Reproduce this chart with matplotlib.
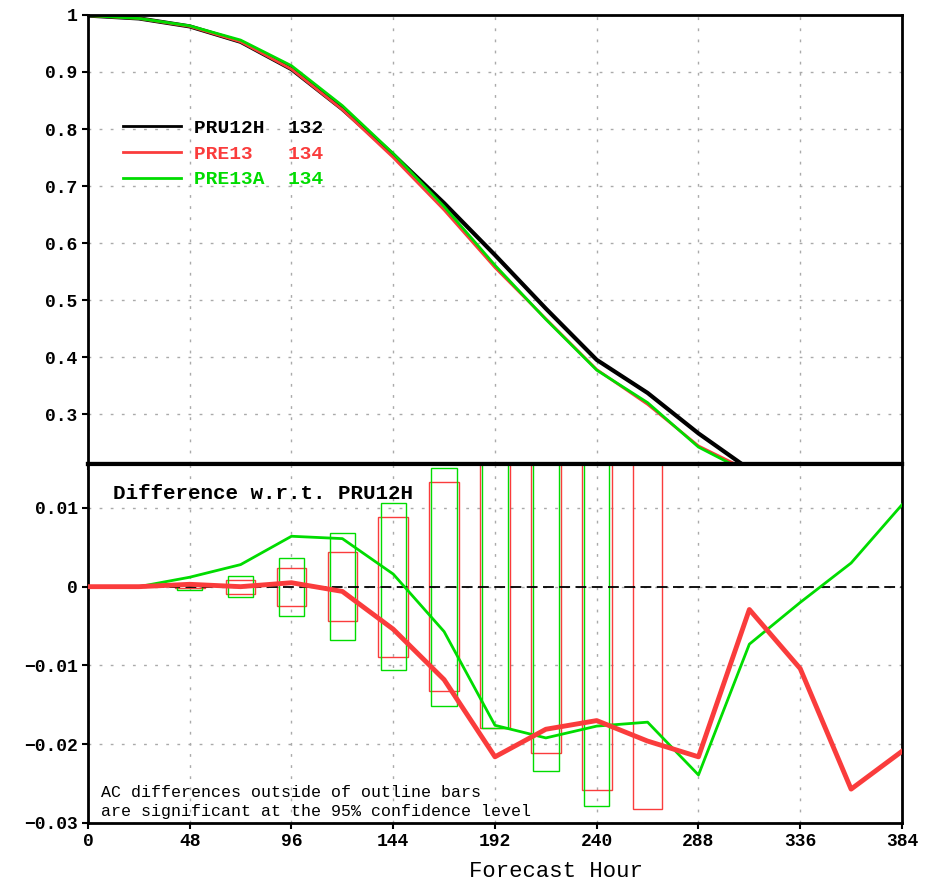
import matplotlib
matplotlib.use('Agg')
import matplotlib.pyplot as plt
from matplotlib.ticker import FixedLocator

plt.rcParams['font.family'] = ['Liberation Mono', 'DejaVu Sans Mono']

# forecast hours
hours = [0, 24, 48, 72, 96, 120, 144, 168, 192, 216, 240, 264, 288, 312]
diff_hours = [0, 24, 48, 72, 96, 120, 144, 168, 192, 216, 240, 264, 288, 312, 336, 360, 384]

# anomaly correlation (top panel)
ac_pru12h = [0.999, 0.994, 0.980, 0.953, 0.905, 0.835, 0.755, 0.670, 0.579, 0.485, 0.395, 0.337, 0.266, 0.203]
ac_pre13 = [0.999, 0.994, 0.980, 0.953, 0.905, 0.834, 0.750, 0.658, 0.557, 0.467, 0.378, 0.317, 0.244, 0.200]
ac_pre13a = [0.999, 0.994, 0.981, 0.956, 0.911, 0.841, 0.757, 0.664, 0.561, 0.466, 0.377, 0.320, 0.242, 0.196]

# difference w.r.t. PRU12H (bottom panel)
diff_pre13 = [0.0, 0.0, 0.0003, 0.0, 0.0005, -0.0006, -0.0054, -0.0118, -0.0216, -0.0181, -0.0170,
              -0.0196, -0.0216, -0.0029, -0.0104, -0.0257, -0.0209]
diff_pre13a = [0.0, 0.0, 0.0012, 0.0028, 0.0064, 0.0061, 0.0016, -0.0057, -0.0176, -0.0192, -0.0177,
               -0.0172, -0.0239, -0.0073, -0.0020, 0.0030, 0.0104]

# 95% significance half-ranges (outline bars)
bar_hours_red = [48, 72, 96, 120, 144, 168, 192, 216, 240, 264]
bar_half_red = [0.0002, 0.0009, 0.0024, 0.0044, 0.0089, 0.0133, 0.0180, 0.0211, 0.0258, 0.0282]
bar_hours_green = [48, 72, 96, 120, 144, 168, 192, 216, 240]
bar_half_green = [0.0004, 0.0013, 0.0037, 0.0068, 0.0106, 0.0151, 0.0179, 0.0234, 0.0279]

names = ['PRU12H', 'PRE13', 'PRE13A']
counts = [132, 134, 134]

RED = '#fa3c3c'
GREEN = '#00dc00'
GRID = dict(color='#aaaaaa', linestyle=(0, (2, 6)), linewidth=1)

fig = plt.figure(figsize=(9.27, 8.82), dpi=100)
ax1 = fig.add_axes([0.0949, 0.4739, 0.8781, 0.5091])
ax2 = fig.add_axes([0.0949, 0.0669, 0.8781, 0.4070])

# ---- top panel
ax1.plot(hours, ac_pru12h, color='black', lw=3, label=f'{names[0]}  {counts[0]}')
ax1.plot(hours, ac_pre13, color=RED, lw=2, label=f'{names[1]}   {counts[1]}')
ax1.plot(hours, ac_pre13a, color=GREEN, lw=2, label=f'{names[2]}  {counts[2]}')
ax1.set_xlim(0, 384)
ax1.set_ylim(0.2123, 1.0)
ax1.xaxis.set_major_locator(FixedLocator(range(0, 385, 48)))
ax1.set_yticks([0.3, 0.4, 0.5, 0.6, 0.7, 0.8, 0.9, 1.0])
ax1.set_yticklabels(['0.3', '0.4', '0.5', '0.6', '0.7', '0.8', '0.9', '1'])
ax1.tick_params(axis='x', labelbottom=False, length=0)
ax1.grid(True, **GRID)

leg = ax1.legend(loc='upper left', bbox_to_anchor=(0.043, 0.768), frameon=False,
                 borderpad=0, borderaxespad=0, handlelength=3.0, handletextpad=0.65,
                 labelspacing=0.42, prop={'weight': 'bold', 'size': 14})
for txt, line in zip(leg.get_texts(), leg.get_lines()):
    txt.set_color(line.get_color())
    line.set_linewidth(2)

# ---- bottom panel
ax2.bar(bar_hours_red, [2 * h for h in bar_half_red], bottom=[-h for h in bar_half_red],
        width=14, fill=False, edgecolor=RED, linewidth=1, zorder=2)
ax2.bar(bar_hours_green, [2 * h for h in bar_half_green], bottom=[-h for h in bar_half_green],
        width=12, fill=False, edgecolor=GREEN, linewidth=1, zorder=2)
ax2.axhline(0, color='black', lw=1.3, linestyle=(0, (6, 3)), zorder=3)
ax2.plot(diff_hours, diff_pre13a, color=GREEN, lw=2, zorder=4)
ax2.plot(diff_hours, diff_pre13, color=RED, lw=3.5, zorder=5)
ax2.set_xlim(0, 384)
ax2.set_ylim(-0.03, 0.01557)
ax2.set_xticks(range(0, 385, 48))
ax2.set_yticks([-0.03, -0.02, -0.01, 0, 0.01])
ax2.set_yticklabels(['\u22120.03', '\u22120.02', '\u22120.01', '0', '0.01'])
ax2.grid(True, **GRID)
ax2.set_xlabel('Forecast Hour', fontsize=16)
ax2.xaxis.set_label_coords(0.575, -0.105)

ax2.text(0.031, 0.919, 'Difference w.r.t. PRU12H', transform=ax2.transAxes,
         fontsize=15, fontweight='bold', va='center', ha='left')
ax2.text(0.016, 0.058, 'AC differences outside of outline bars\nare significant at the 95% confidence level',
         transform=ax2.transAxes, fontsize=12, va='center', ha='left', linespacing=1.3)

for ax in (ax1, ax2):
    for sp in ax.spines.values():
        sp.set_linewidth(2)
        sp.set_color('black')
    ax.tick_params(axis='both', labelsize=13, width=1.5, length=4, direction='out')
    for lab in ax.get_yticklabels() + ax.get_xticklabels():
        lab.set_fontweight('bold')
ax1.spines['bottom'].set_linewidth(3)
ax2.spines['top'].set_linewidth(3)

fig.savefig('out.png', dpi=100)
